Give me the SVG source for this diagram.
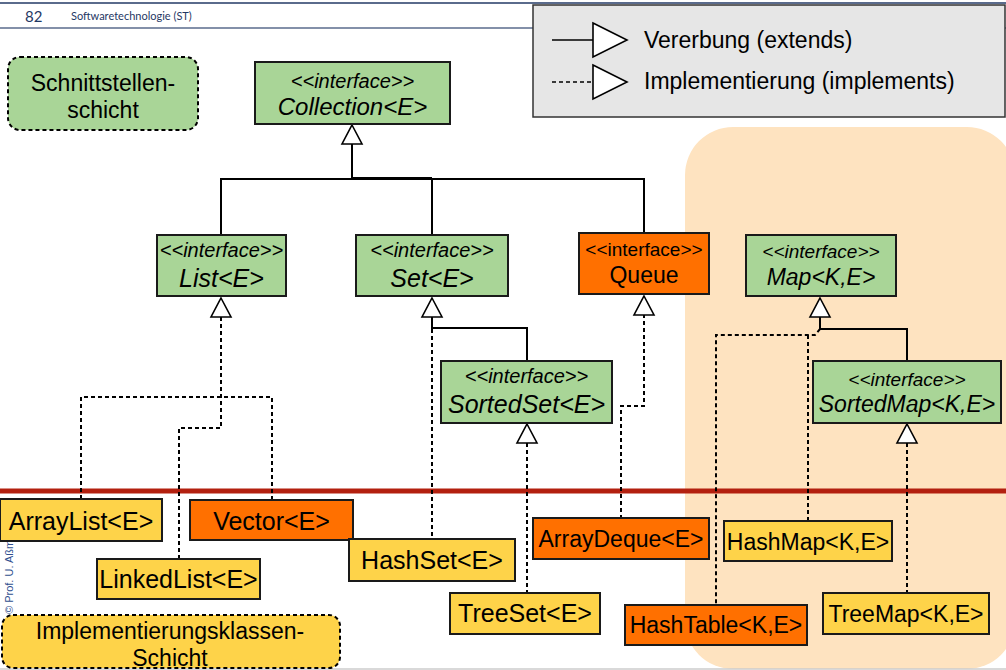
<svg xmlns="http://www.w3.org/2000/svg" xmlns:xlink="http://www.w3.org/1999/xlink" width="1006" height="670" viewBox="0 0 1006 670">
<style>
text{font-family:"Liberation Sans",Arial,sans-serif;fill:#000}
.box{stroke:#1a1a1a;stroke-width:2}
.g{fill:#a9d597}
.y{fill:#fed349}
.o{fill:#ff7000}
.it{font-style:italic}
.c{text-anchor:middle}
.st{font-size:20px}
.st2{font-size:19px}
.nm{font-size:25px}
.nm2{font-size:23px}
.sol{fill:none;stroke:#000;stroke-width:2}
.dash{fill:none;stroke:#000;stroke-width:2;stroke-dasharray:4 3}
.tri{fill:#fff;stroke:#000;stroke-width:1.6}
</style>
<defs>
<path id="tri" d="M0,0 L10,19 L-10,19 Z"/>
</defs>
<rect x="0" y="0" width="1006" height="670" fill="#fff"/>
<rect id="map-area" x="685" y="127" width="330" height="542" rx="48" fill="#fee3c0"/>
<line x1="0" y1="669" x2="1006" y2="669" stroke="#cccccc" stroke-width="1.5"/>
<g id="header">
<line x1="0" y1="3" x2="1006" y2="3" stroke="#5a6b8c" stroke-width="2"/>
<line x1="0" y1="28" x2="1006" y2="28" stroke="#5a6b8c" stroke-width="1.5"/>
<text x="25" y="22" style="font-family:Lato,'Open Sans',sans-serif;font-size:15px;fill:#1f3864">82</text>
<text x="71" y="20" style="font-family:Lato,'Open Sans',sans-serif;font-size:11px;fill:#1f3864">Softwaretechnologie (ST)</text>
</g>
<text transform="translate(13,614) rotate(-90)" style="font-size:11px;fill:#2f4f8f">© Prof. U. Aßmann</text>
<g id="legend">
<rect x="533" y="5" width="472" height="112" fill="#e6e6e6" stroke="#333" stroke-width="1.5"/>
<line x1="552" y1="40" x2="593" y2="40" stroke="#000" stroke-width="1.5"/>
<path d="M593,23 L627,40 L593,57 Z" class="tri"/>
<text x="644" y="48" style="font-size:23px">Vererbung (extends)</text>
<line x1="552" y1="82" x2="593" y2="82" stroke="#000" stroke-width="1.5" stroke-dasharray="4 3"/>
<path d="M593,65 L627,82 L593,99 Z" class="tri"/>
<text x="644" y="89" style="font-size:23px">Implementierung (implements)</text>
</g>
<g id="layer-interfaces">
<rect x="8" y="57" width="190" height="73" rx="12" class="g" stroke="#000" stroke-width="2" stroke-dasharray="4 3"/>
<text x="103" y="91" class="c" style="font-size:23px">Schnittstellen-</text>
<text x="103" y="118" class="c" style="font-size:23px">schicht</text>
</g>
<g id="layer-impl">
<rect x="2" y="615" width="338" height="53" rx="11" class="y" stroke="#000" stroke-width="2" stroke-dasharray="4 3"/>
<text x="170" y="639" class="c" style="font-size:23px">Implementierungsklassen-</text>
<text x="170" y="666" class="c" style="font-size:23px">Schicht</text>
</g>
<line id="layer-separator" x1="0" y1="491" x2="1006" y2="491" stroke="#b3200f" stroke-width="5"/>
<g id="connectors">
<path class="sol" d="M352,144 V179 M221,235 V179 H644 V233 M432,179 V235 M352,178 H432"/>
<path class="dash" d="M221,317 V428 H179 V559 M81,499 V397 H272 V500"/>
<path class="sol" d="M432,317 V328 H527 V361"/>
<path class="dash" d="M432,329 V539"/>
<path class="dash" d="M527,443 V593"/>
<path class="dash" d="M644,314 V406 H621 V518"/>
<path class="sol" d="M820,316 V329 H907 V361"/>
<path class="dash" d="M820,329 L815,335 H716 V605 M808,335 V521"/>
<path class="dash" d="M907,443 V593"/>
<use xlink:href="#tri" x="352" y="125" class="tri"/>
<use xlink:href="#tri" x="221" y="298" class="tri"/>
<use xlink:href="#tri" x="432" y="298" class="tri"/>
<use xlink:href="#tri" x="644" y="296" class="tri"/>
<use xlink:href="#tri" x="820" y="298" class="tri"/>
<use xlink:href="#tri" x="527" y="424" class="tri"/>
<use xlink:href="#tri" x="907" y="424" class="tri"/>
</g>
<g id="collection">
<rect x="255" y="62" width="195" height="62" class="box g"/>
<text x="352.5" y="88" class="c it st">&lt;&lt;interface&gt;&gt;</text>
<text x="352.5" y="115" class="c it" style="font-size:24px">Collection&lt;E&gt;</text>
</g>
<g id="list">
<rect x="157" y="235" width="129" height="61" class="box g"/>
<text x="221.5" y="257" class="c it st">&lt;&lt;interface&gt;&gt;</text>
<text x="221.5" y="287" class="c it nm">List&lt;E&gt;</text>
</g>
<g id="set">
<rect x="356" y="235" width="152" height="61" class="box g"/>
<text x="432" y="257" class="c it st">&lt;&lt;interface&gt;&gt;</text>
<text x="432" y="287" class="c it nm">Set&lt;E&gt;</text>
</g>
<g id="queue">
<rect x="579" y="233" width="130" height="61" class="box o"/>
<text x="644" y="256" class="c st2">&lt;&lt;interface&gt;&gt;</text>
<text x="644" y="283" class="c nm2">Queue</text>
</g>
<g id="map">
<rect x="746" y="235" width="150" height="61" class="box g"/>
<text x="821" y="258" class="c it st2">&lt;&lt;interface&gt;&gt;</text>
<text x="821" y="285" class="c it nm2">Map&lt;K,E&gt;</text>
</g>
<g id="sortedset">
<rect x="441" y="361" width="171" height="62" class="box g"/>
<text x="526.5" y="383" class="c it st">&lt;&lt;interface&gt;&gt;</text>
<text x="526.5" y="413" class="c it nm">SortedSet&lt;E&gt;</text>
</g>
<g id="sortedmap">
<rect x="813" y="361" width="188" height="62" class="box g"/>
<text x="907" y="386" class="c it st2">&lt;&lt;interface&gt;&gt;</text>
<text x="907" y="412" class="c it nm2">SortedMap&lt;K,E&gt;</text>
</g>
<g id="arraylist">
<rect x="0" y="499" width="162" height="42" class="box y"/>
<text x="81" y="530" class="c nm">ArrayList&lt;E&gt;</text>
</g>
<g id="vector">
<rect x="190" y="500" width="163" height="40" class="box o"/>
<text x="271.5" y="530" class="c nm">Vector&lt;E&gt;</text>
</g>
<g id="linkedlist">
<rect x="97" y="559" width="163" height="40" class="box y"/>
<text x="178.5" y="588" class="c nm">LinkedList&lt;E&gt;</text>
</g>
<g id="hashset">
<rect x="349" y="539" width="166" height="42" class="box y"/>
<text x="432" y="569" class="c nm">HashSet&lt;E&gt;</text>
</g>
<g id="treeset">
<rect x="450" y="593" width="150" height="41" class="box y"/>
<text x="525" y="622" class="c nm">TreeSet&lt;E&gt;</text>
</g>
<g id="arraydeque">
<rect x="533" y="518" width="176" height="41" class="box o"/>
<text x="621" y="547" class="c nm2">ArrayDeque&lt;E&gt;</text>
</g>
<g id="hashmap">
<rect x="724" y="521" width="168" height="40" class="box y"/>
<text x="808" y="550" class="c nm2">HashMap&lt;K,E&gt;</text>
</g>
<g id="hashtable">
<rect x="625" y="605" width="182" height="40" class="box o"/>
<text x="716" y="633" class="c nm2">HashTable&lt;K,E&gt;</text>
</g>
<g id="treemap">
<rect x="823" y="593" width="166" height="41" class="box y"/>
<text x="906" y="622" class="c nm2">TreeMap&lt;K,E&gt;</text>
</g>
</svg>
